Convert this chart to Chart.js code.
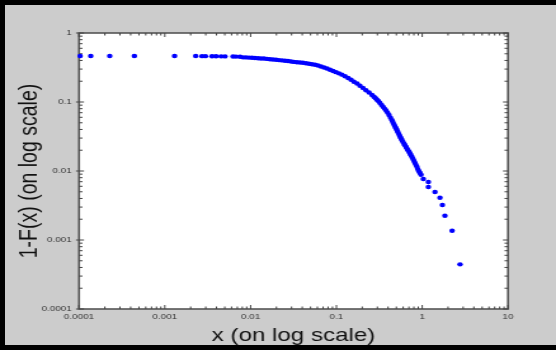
<!DOCTYPE html>
<html>
<head>
<meta charset="utf-8">
<script src="https://cdn.jsdelivr.net/npm/chart.js@4"></script>
<style>
    html, body { margin: 0; padding: 0; background: #cccccc; overflow: hidden; }
    #frame { position: relative; width: 556px; height: 350px; background: #cccccc; overflow: hidden; }
    #frame .edge { position: absolute; background: #000; }
    /* the original picture is stretched sideways, so the canvas is too */
    #chart { position: absolute; left: 0; top: 0; transform: scaleX(1.2694); transform-origin: 0 0; }
</style>
</head>
<body>
<div id="frame">
    <canvas id="chart" width="438" height="350"></canvas>
    <div class="edge" style="left:0;top:0;width:556px;height:5px"></div>
    <div class="edge" style="left:0;top:0;width:5px;height:350px"></div>
    <div class="edge" style="left:0;top:345px;width:556px;height:5px"></div>
</div>
<script>
// flat part, sparse points at small x
const flatX = [1.03e-4, 1.37e-4, 2.28e-4, 4.42e-4, 1.30e-3, 2.29e-3, 2.71e-3, 2.98e-3, 3.55e-3, 3.95e-3,
    4.52e-3, 5.03e-3, 6.24e-3, 6.76e-3, 7.52e-3];
const flatY = [0.464, 0.464, 0.464, 0.464, 0.464, 0.463, 0.462, 0.462, 0.461, 0.460,
    0.459, 0.458, 0.456, 0.455, 0.453];

// dense shoulder of the curve
const shoulderX = [8.15e-3, 8.84e-3, 9.58e-3, 0.01038, 0.01125, 0.0122, 0.0132, 0.0143, 0.0155, 0.0168,
    0.0182, 0.0198, 0.0214, 0.0232, 0.0252, 0.0273, 0.0296, 0.0320, 0.0347, 0.0377,
    0.0408, 0.0442, 0.0479, 0.0520, 0.0563, 0.0610, 0.0661, 0.0717, 0.0777, 0.0842,
    0.0913, 0.0989, 0.107, 0.116, 0.126, 0.137, 0.148, 0.160, 0.174, 0.188,
    0.204, 0.221, 0.240, 0.260];
const shoulderY = [0.444, 0.443, 0.440, 0.437, 0.434, 0.431, 0.428, 0.426, 0.421, 0.417,
    0.413, 0.409, 0.405, 0.401, 0.397, 0.392, 0.386, 0.381, 0.377, 0.374,
    0.370, 0.365, 0.359, 0.353, 0.347, 0.338, 0.327, 0.317, 0.306, 0.294,
    0.282, 0.271, 0.260, 0.249, 0.236, 0.223, 0.210, 0.197, 0.185, 0.172,
    0.160, 0.148, 0.137, 0.126];

// steep drop
const dropX = [0.274, 0.286, 0.297, 0.310, 0.322, 0.336, 0.349, 0.364, 0.379, 0.394,
    0.410, 0.427, 0.445, 0.457, 0.469, 0.482, 0.495, 0.509, 0.522, 0.537,
    0.551, 0.566, 0.582, 0.597, 0.614, 0.630, 0.648, 0.665, 0.683, 0.702,
    0.721, 0.740, 0.760, 0.781, 0.802, 0.824, 0.846, 0.870, 0.893, 0.918, 0.943];
const dropY = [0.1193, 0.1135, 0.1076, 0.1023, 0.0967, 0.0908, 0.0852, 0.0802, 0.0755, 0.0702,
    0.0648, 0.0592, 0.0543, 0.0504, 0.0472, 0.0443, 0.0416, 0.0389, 0.0364, 0.0337,
    0.0316, 0.0298, 0.0279, 0.0263, 0.0249, 0.0236, 0.0223, 0.0211, 0.0200, 0.0190,
    0.0179, 0.0169, 0.0160, 0.0149, 0.0140, 0.0131, 0.0122, 0.0114, 0.0105, 0.00983, 0.00935];

// last few isolated points
const tailX = [0.968, 1.03, 1.18, 1.18, 1.41, 1.61, 1.72, 1.84, 2.23, 2.76];
const tailY = [0.00884, 0.00766, 0.00693, 0.00586, 0.00496, 0.0041, 0.00322, 0.00225, 0.00136, 0.000444];

const xTickLabels = ['0.0001', '0.001', '0.01', '0.1', '1', '10'];
const yTickLabels = ['0.0001', '0.001', '0.01', '0.1', '1'];

const STRETCH = 556 / 438;

const allX = [...flatX, ...shoulderX, ...dropX, ...tailX];
const allY = [...flatY, ...shoulderY, ...dropY, ...tailY];
const points = allX.map((x, i) => ({ x, y: allY[i] }));

// 1..9 x 10^n marks between the first and last labelled decade
function logTicks(labels) {
    const decades = labels.map(Number);
    const out = [];
    decades.forEach((d, i) => {
        out.push({ value: d, major: true });
        if (i < decades.length - 1) {
            for (let k = 2; k <= 9; k++) out.push({ value: d * k, major: false });
        }
    });
    return out;
}

function labelFor(labels) {
    return (value) => labels.find(l => Math.abs(Number(l) - value) < Number(l) * 1e-6) || '';
}

const boxPlugin = {
    id: 'box',
    beforeDatasetsDraw(chart) {
        const { ctx, chartArea: a } = chart;
        ctx.save();
        ctx.fillStyle = '#ffffff';
        ctx.fillRect(a.left, a.top, a.right - a.left, a.bottom - a.top);
        ctx.strokeStyle = '#555555';
        ctx.lineWidth = 1.6;
        ctx.strokeRect(a.left, a.top, a.right - a.left, a.bottom - a.top);

        // ticks point inward on all four sides
        const { x, y } = chart.scales;
        ctx.lineWidth = 1;
        ctx.strokeStyle = '#444444';
        ctx.beginPath();
        x.ticks.forEach(t => {
            const px = x.getPixelForValue(t.value);
            const len = t.major ? 4 : 2.5;
            ctx.moveTo(px, a.bottom); ctx.lineTo(px, a.bottom - len);
            ctx.moveTo(px, a.top); ctx.lineTo(px, a.top + len);
        });
        y.ticks.forEach(t => {
            const py = y.getPixelForValue(t.value);
            const len = (t.major ? 5 : 3.5) / STRETCH;
            ctx.moveTo(a.left - (t.major ? 3 / STRETCH : 0), py); ctx.lineTo(a.left + len, py);
            ctx.moveTo(a.right, py); ctx.lineTo(a.right - len, py);
        });
        ctx.stroke();
        ctx.restore();
    }
};

new Chart(document.getElementById('chart'), {
    type: 'scatter',
    data: {
        datasets: [{
            data: points,
            backgroundColor: '#0000ff',
            borderWidth: 0,
            pointRadius: 2.2,
            clip: 6,
        }],
    },
    options: {
        responsive: false,
        animation: false,
        layout: { padding: { left: 0, top: 33, right: 438 - 508 / STRETCH, bottom: 0 } },
        plugins: { legend: { display: false }, tooltip: { enabled: false } },
        scales: {
            x: {
                type: 'logarithmic',
                min: 0.0001,
                max: 10,
                grid: { display: false, drawTicks: false },
                border: { display: false },
                afterBuildTicks: (scale) => { scale.ticks = logTicks(xTickLabels); },
                afterFit: (scale) => { scale.height = 41; },
                ticks: {
                    autoSkip: false,
                    maxRotation: 0,
                    padding: 3.5,
                    color: '#333333',
                    font: { family: '"Liberation Sans", Arial, sans-serif', size: 7.8 },
                    callback: labelFor(xTickLabels),
                },
                title: {
                    display: true,
                    text: 'x (on log scale)',
                    color: '#111111',
                    font: { family: '"Liberation Sans", Arial, sans-serif', size: 19, lineHeight: 1 },
                    padding: { top: 0, bottom: 4.5 },
                },
            },
            y: {
                type: 'logarithmic',
                min: 0.0001,
                max: 1,
                grid: { display: false, drawTicks: false },
                border: { display: false },
                afterBuildTicks: (scale) => { scale.ticks = logTicks(yTickLabels); },
                afterFit: (scale) => { scale.width = 79 / STRETCH; },
                ticks: {
                    autoSkip: false,
                    padding: 5.7,
                    color: '#333333',
                    font: { family: '"Liberation Sans", Arial, sans-serif', size: 7.8 },
                    callback: labelFor(yTickLabels),
                },
                title: {
                    display: true,
                    text: '1-F(x) (on log scale)',
                    color: '#111111',
                    font: { family: '"Liberation Sans", Arial, sans-serif', size: 19.5, lineHeight: 1 },
                    padding: { top: 14, bottom: 0 },
                },
            },
        },
    },
    plugins: [boxPlugin],
});
</script>
</body>
</html>
